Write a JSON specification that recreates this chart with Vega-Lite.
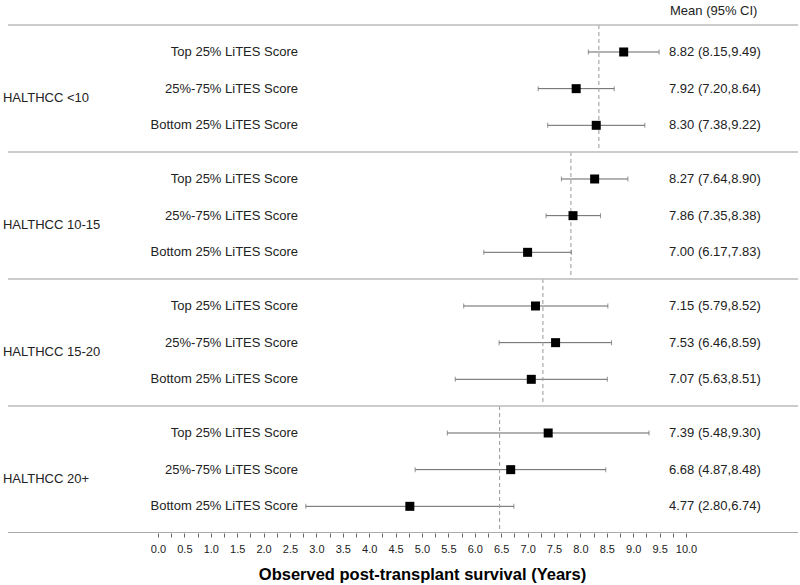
{
  "$schema": "https://vega.github.io/schema/vega-lite/v6.json",
  "autosize": {"type": "pad"},
  "padding": {"top": 5, "left": 0, "right": 0, "bottom": 0},
  "background": "white",
  "title": {"text": "Mean (95% CI)", "anchor": "start", "dx": 670, "fontSize": 13, "fontWeight": "normal", "font": "Liberation Sans", "color": "#222", "offset": 6, "frame": "group"},
  "data": {"values": [
    {"group": "HALTHCC <10", "label": "Top 25% LiTES Score", "rank": 1, "mean": 8.82, "lo": 8.15, "hi": 9.49, "ci": "8.82 (8.15,9.49)", "groupMean": 8.35},
    {"group": "HALTHCC <10", "label": "25%-75% LiTES Score", "rank": 2, "mean": 7.92, "lo": 7.20, "hi": 8.64, "ci": "7.92 (7.20,8.64)", "groupMean": 8.35},
    {"group": "HALTHCC <10", "label": "Bottom 25% LiTES Score", "rank": 3, "mean": 8.30, "lo": 7.38, "hi": 9.22, "ci": "8.30 (7.38,9.22)", "groupMean": 8.35},
    {"group": "HALTHCC 10-15", "label": "Top 25% LiTES Score", "rank": 1, "mean": 8.27, "lo": 7.64, "hi": 8.90, "ci": "8.27 (7.64,8.90)", "groupMean": 7.82},
    {"group": "HALTHCC 10-15", "label": "25%-75% LiTES Score", "rank": 2, "mean": 7.86, "lo": 7.35, "hi": 8.38, "ci": "7.86 (7.35,8.38)", "groupMean": 7.82},
    {"group": "HALTHCC 10-15", "label": "Bottom 25% LiTES Score", "rank": 3, "mean": 7.00, "lo": 6.17, "hi": 7.83, "ci": "7.00 (6.17,7.83)", "groupMean": 7.82},
    {"group": "HALTHCC 15-20", "label": "Top 25% LiTES Score", "rank": 1, "mean": 7.15, "lo": 5.79, "hi": 8.52, "ci": "7.15 (5.79,8.52)", "groupMean": 7.29},
    {"group": "HALTHCC 15-20", "label": "25%-75% LiTES Score", "rank": 2, "mean": 7.53, "lo": 6.46, "hi": 8.59, "ci": "7.53 (6.46,8.59)", "groupMean": 7.29},
    {"group": "HALTHCC 15-20", "label": "Bottom 25% LiTES Score", "rank": 3, "mean": 7.07, "lo": 5.63, "hi": 8.51, "ci": "7.07 (5.63,8.51)", "groupMean": 7.29},
    {"group": "HALTHCC 20+", "label": "Top 25% LiTES Score", "rank": 1, "mean": 7.39, "lo": 5.48, "hi": 9.30, "ci": "7.39 (5.48,9.30)", "groupMean": 6.47},
    {"group": "HALTHCC 20+", "label": "25%-75% LiTES Score", "rank": 2, "mean": 6.68, "lo": 4.87, "hi": 8.48, "ci": "6.68 (4.87,8.48)", "groupMean": 6.47},
    {"group": "HALTHCC 20+", "label": "Bottom 25% LiTES Score", "rank": 3, "mean": 4.77, "lo": 2.80, "hi": 6.74, "ci": "4.77 (2.80,6.74)", "groupMean": 6.47}
  ]},
  "facet": {"row": {"field": "group", "type": "nominal", "header": null, "sort": ["HALTHCC <10", "HALTHCC 10-15", "HALTHCC 15-20", "HALTHCC 20+"]}},
  "spacing": 0,
  "bounds": "flush",
  "spec": {
    "width": 800,
    "height": 126.5,
    "layer": [
      {
        "mark": {"type": "rule", "color": "#666", "strokeWidth": 1},
        "encoding": {
          "x": {"field": "lo", "type": "quantitative", "title": "Observed post-transplant survival (Years)",
                "scale": {"domain": [-2.992, 12.159], "nice": false, "zero": false},
                "axis": {
                  "values": [0, 0.25, 0.5, 0.75, 1, 1.25, 1.5, 1.75, 2, 2.25, 2.5, 2.75, 3, 3.25, 3.5, 3.75, 4, 4.25, 4.5, 4.75, 5, 5.25, 5.5, 5.75, 6, 6.25, 6.5, 6.75, 7, 7.25, 7.5, 7.75, 8, 8.25, 8.5, 8.75, 9, 9.25, 9.5, 9.75, 10],
                  "tickCount": 200,
                  "labelExpr": "datum.value % 0.5 == 0 ? format(datum.value, '.1f') : ''",
                  "labelOverlap": false,
                  "titleX": 422,
                  "titleAlign": "center"
                }},
          "x2": {"field": "hi"},
          "y": {"field": "rank", "type": "quantitative", "axis": null, "scale": {"domain": [0.264, 3.714], "reverse": true, "nice": false, "zero": false}}
        }
      },
      {
        "mark": {"type": "tick", "orient": "vertical", "color": "#666", "size": 5, "thickness": 1},
        "encoding": {
          "x": {"field": "lo", "type": "quantitative", "title": "Observed post-transplant survival (Years)"},
          "y": {"field": "rank", "type": "quantitative"}
        }
      },
      {
        "mark": {"type": "tick", "orient": "vertical", "color": "#666", "size": 5, "thickness": 1},
        "encoding": {
          "x": {"field": "hi", "type": "quantitative", "title": "Observed post-transplant survival (Years)"},
          "y": {"field": "rank", "type": "quantitative"}
        }
      },
      {
        "transform": [{"filter": "datum.rank == 2"}],
        "mark": {"type": "rule", "color": "#999", "strokeWidth": 1, "strokeDash": [4, 3]},
        "encoding": {
          "x": {"field": "groupMean", "type": "quantitative", "title": "Observed post-transplant survival (Years)"}
        }
      },
      {
        "transform": [{"filter": "datum.rank == 2"}],
        "mark": {"type": "rule", "color": "#bbb", "strokeWidth": 1.5},
        "encoding": {
          "x": {"datum": -2.841, "type": "quantitative", "title": "Observed post-transplant survival (Years)"},
          "x2": {"datum": 12.121},
          "y": {"datum": 0.264, "type": "quantitative"}
        }
      },
      {
        "transform": [{"filter": "datum.rank == 2 && datum.group == 'HALTHCC 20+'"}],
        "mark": {"type": "rule", "color": "#aaa", "strokeWidth": 1},
        "encoding": {
          "x": {"datum": -2.841, "type": "quantitative", "title": "Observed post-transplant survival (Years)"},
          "x2": {"datum": 12.121},
          "y": {"datum": 3.714, "type": "quantitative"}
        }
      },
      {
        "mark": {"type": "point", "shape": "square", "filled": true, "color": "#000", "opacity": 1, "size": 81},
        "encoding": {
          "x": {"field": "mean", "type": "quantitative", "title": "Observed post-transplant survival (Years)"},
          "y": {"field": "rank", "type": "quantitative"}
        }
      },
      {
        "mark": {"type": "text", "align": "right", "baseline": "middle", "fontSize": 13, "font": "Liberation Sans", "color": "#222"},
        "encoding": {
          "x": {"datum": 2.652, "type": "quantitative", "title": "Observed post-transplant survival (Years)"},
          "y": {"field": "rank", "type": "quantitative"},
          "text": {"field": "label"}
        }
      },
      {
        "mark": {"type": "text", "align": "left", "baseline": "middle", "fontSize": 13, "font": "Liberation Sans", "color": "#222"},
        "encoding": {
          "x": {"datum": 9.678, "type": "quantitative", "title": "Observed post-transplant survival (Years)"},
          "y": {"field": "rank", "type": "quantitative"},
          "text": {"field": "ci"}
        }
      },
      {
        "transform": [{"filter": "datum.rank == 2"}],
        "mark": {"type": "text", "align": "left", "baseline": "middle", "fontSize": 13, "font": "Liberation Sans", "color": "#222"},
        "encoding": {
          "x": {"datum": -2.936, "type": "quantitative", "title": "Observed post-transplant survival (Years)"},
          "y": {"datum": 2.245, "type": "quantitative"},
          "text": {"field": "group"}
        }
      }
    ]
  },
  "config": {
    "view": {"stroke": null},
    "axisX": {
      "domain": false,
      "grid": false,
      "ticks": true,
      "tickSize": 4,
      "tickColor": "#666",
      "tickWidth": 1,
      "labelFont": "Liberation Sans",
      "labelFontSize": 11,
      "labelColor": "#222",
      "labelPadding": 6,
      "labelFlush": false,
      "labelOverlap": false,
      "labelBound": false,
      "titleFont": "Liberation Sans",
      "titleFontSize": 16.5,
      "titleFontWeight": "bold",
      "titleColor": "#000",
      "titlePadding": 12
    }
  }
}
